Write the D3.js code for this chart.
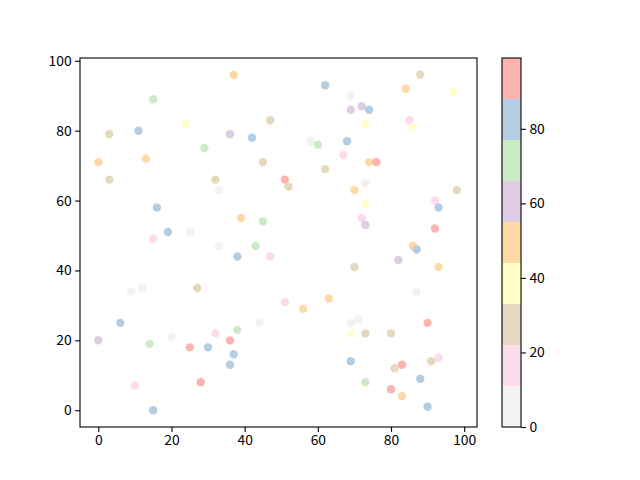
<!DOCTYPE html>
<html><head><meta charset="utf-8">
<script src="https://cdn.jsdelivr.net/npm/d3@7"></script>
<style>body{margin:0;background:#fff}svg{display:block}text{font-family:"Noto Sans CJK SC","DejaVu Sans",sans-serif;font-size:13.9px;fill:#000}</style>
</head><body><svg id="c" width="640" height="480"></svg>
<script>
const xs = [15,24,3,11,29,0,13,3,32,37,62,47,36,42,58,60,68,67,45,62,51,52,88,84,97,69,69,72,74,73,85,86,74,76,73,33,16,19,25,15,33,9,12,27,39,45,43,38,47,51,63,56,70,98,73,92,93,72,73,92,86,87,82,70,93,87,6,0,14,20,25,30,32,10,28,15,44,38,36,37,36,69,69,69,71,73,80,90,93,91,83,81,88,73,80,83,90];
const ys = [89,82,79,80,75,71,72,66,66,96,93,83,79,78,77,76,77,73,71,69,66,64,96,92,91,90,86,87,86,82,83,81,71,71,65,63,58,51,51,49,47,34,35,35,55,54,47,44,44,31,32,29,63,63,59,60,58,55,53,52,47,46,43,41,41,34,25,20,19,21,18,18,22,7,8,0,25,23,20,16,13,25,22,14,26,22,22,25,15,14,13,12,9,8,6,4,1];
const cs = [71,38,27,82,71,49,49,27,27,49,82,27,60,82,5,71,82,16,27,27,93,27,27,49,38,5,60,60,82,38,16,38,49,93,5,5,82,82,5,16,5,5,5,27,49,71,71,82,16,16,49,49,49,27,38,16,82,16,60,93,49,82,60,27,49,5,82,60,71,5,93,82,16,16,93,82,5,71,93,82,82,5,38,82,5,27,27,93,16,27,93,27,82,71,93,49,82];
const xTicks = [0,20,40,60,80,100];
const yTicks = [0,20,40,60,80,100];
const cTicks = [0,20,40,60,80];
const palette = ["#f2f2f2","#fddaec","#e5d8bd","#ffffcc","#fed9a6","#decbe4","#ccebc5","#b3cde3","#fbb4ae"];
const cMin = 0, cMax = 99;

const svg = d3.select("#c");
const L=80,R=477,T=58,B=427;
const x = d3.scaleLinear().domain([-5,103.5]).range([L,R]);
const y = d3.scaleLinear().domain([-4.8,100.8]).range([B,T]);
const bins = d3.range(1,palette.length).map(i=>cMin+(cMax-cMin)*i/palette.length);
const color = d3.scaleThreshold().domain(bins).range(palette);

svg.append("g").selectAll("circle").data(xs.map((v,i)=>({x:v,y:ys[i],c:cs[i]}))).join("circle")
  .attr("cx",d=>x(d.x)).attr("cy",d=>y(d.y)).attr("r",4.2).attr("fill",d=>color(d.c));

const xa = svg.append("g").attr("transform",`translate(0,${B})`).call(d3.axisBottom(x).tickValues(xTicks).tickSize(4.9).tickPadding(3.5).tickFormat(d3.format("d")));
const ya = svg.append("g").attr("transform",`translate(${L},0)`).call(d3.axisLeft(y).tickValues(yTicks).tickSize(4.9).tickPadding(3.5).tickFormat(d3.format("d")));
[xa,ya].forEach(a=>{a.select(".domain").remove();a.selectAll("line").attr("stroke","#000").attr("stroke-width",1.1);a.selectAll("text").style("font-size","13.9px").attr("fill","#000");});
svg.append("rect").attr("x",L).attr("y",T).attr("width",R-L).attr("height",B-T).attr("fill","none").attr("stroke","#000").attr("stroke-width",1.1);

// colorbar
const CL=502,CR=521,CT=58,CB=427;
const cy = d3.scaleLinear().domain([cMin,cMax]).range([CB,CT]);
const edges=[cMin,...bins,cMax];
svg.append("g").selectAll("rect").data(palette).join("rect")
  .attr("x",CL).attr("width",CR-CL).attr("y",(d,i)=>cy(edges[i+1])).attr("height",(d,i)=>cy(edges[i])-cy(edges[i+1])).attr("fill",d=>d);
svg.append("rect").attr("x",CL).attr("y",CT).attr("width",CR-CL).attr("height",CB-CT).attr("fill","none").attr("stroke","#000").attr("stroke-width",1.1);
const ca = svg.append("g").attr("transform",`translate(${CR},0)`).call(d3.axisRight(cy).tickValues(cTicks).tickSize(4.9).tickPadding(3.5).tickFormat(d3.format("d")));
ca.select(".domain").remove();ca.selectAll("line").attr("stroke","#000").attr("stroke-width",1.1);ca.selectAll("text").style("font-size","13.9px").attr("fill","#000");
</script></body></html>
